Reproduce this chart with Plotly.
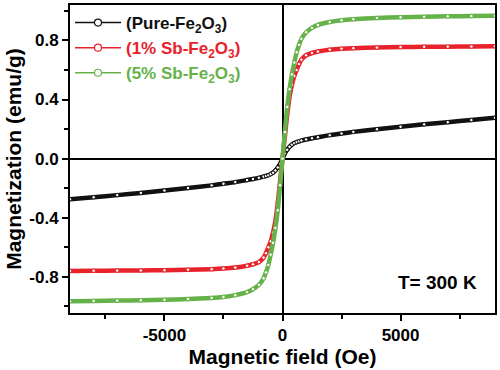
import plotly.graph_objects as go

field_oe = [-9000, -8000, -7000, -6000, -5000, -4000, -3000, -2500, -2000, -1500, -1250, -1000,
            -800, -700, -600, -500, -400, -300, -200, -100, 0,
            100, 200, 300, 400, 500, 600, 700, 800,
            1000, 1250, 1500, 2000, 2500, 3000, 4000, 5000, 6000, 7000, 8000, 9000]

pure_fe2o3 = [-0.275, -0.261, -0.247, -0.232, -0.216, -0.199, -0.181, -0.170, -0.159, -0.145, -0.138, -0.130,
              -0.122, -0.117, -0.112, -0.105, -0.095, -0.080, -0.060, -0.035, 0.0,
              0.035, 0.060, 0.080, 0.095, 0.105, 0.112, 0.117, 0.122,
              0.130, 0.138, 0.145, 0.159, 0.170, 0.181, 0.199, 0.216, 0.232, 0.247, 0.261, 0.276]

sb1_fe2o3 = [-0.760, -0.759, -0.758, -0.757, -0.755, -0.752, -0.748, -0.744, -0.737, -0.725, -0.715, -0.700,
             -0.670, -0.640, -0.600, -0.560, -0.500, -0.420, -0.300, -0.150, 0.0,
             0.150, 0.300, 0.420, 0.500, 0.560, 0.600, 0.640, 0.670,
             0.700, 0.715, 0.725, 0.737, 0.744, 0.748, 0.752, 0.755, 0.757, 0.758, 0.759, 0.760]

sb5_fe2o3 = [-0.965, -0.963, -0.961, -0.959, -0.956, -0.951, -0.943, -0.936, -0.924, -0.904, -0.884, -0.854,
             -0.810, -0.770, -0.720, -0.650, -0.570, -0.470, -0.350, -0.180, 0.0,
             0.180, 0.350, 0.470, 0.570, 0.650, 0.720, 0.770, 0.810,
             0.855, 0.885, 0.905, 0.925, 0.937, 0.944, 0.952, 0.957, 0.960, 0.963, 0.965, 0.967]

series_names = ["(Pure-Fe<sub>2</sub>O<sub>3</sub>)",
                "(1% Sb-Fe<sub>2</sub>O<sub>3</sub>)",
                "(5% Sb-Fe<sub>2</sub>O<sub>3</sub>)"]
series_colors = ["#111111", "#e8222b", "#66b24a"]

x_tickvals = [-5000, 0, 5000]
x_ticktext = ["-5000", "0", "5000"]
y_tickvals = [-0.8, -0.4, 0.0, 0.4, 0.8]
y_ticktext = ["-0.8", "-0.4", "0.0", "0.4", "0.8"]

FONT = "Arial, Liberation Sans, Helvetica, sans-serif"

fig = go.Figure()
for name, ys, col in zip(series_names, [pure_fe2o3, sb1_fe2o3, sb5_fe2o3], series_colors):
    fig.add_trace(go.Scatter(
        x=field_oe, y=ys, mode="lines+markers", name=name, showlegend=False,
        line=dict(color=col, width=4.5, shape="spline", smoothing=0.6),
        marker=dict(symbol="circle", size=3.5, color="white", line=dict(color=col, width=1)),
    ))
# legend entries (thin line with open circle, coloured text)
for name, col in zip(series_names, series_colors):
    fig.add_trace(go.Scatter(
        x=[None], y=[None], mode="lines+markers",
        name=f"<span style='color:{col}'>{name}</span>",
        line=dict(color=col, width=1.5),
        marker=dict(symbol="circle", size=7, color="white", line=dict(color=col, width=1.2)),
    ))

fig.update_layout(
    width=500, height=370,
    margin=dict(l=70, r=3, t=4, b=57),
    paper_bgcolor="white", plot_bgcolor="white",
    font=dict(family=FONT, color="black", size=17, weight="bold"),
    showlegend=True,
    legend=dict(x=0.0, y=1.0, xanchor="left", yanchor="top",
                bgcolor="rgba(0,0,0,0)", borderwidth=0,
                font=dict(size=17, family=FONT, weight="bold"),
                itemwidth=46, tracegroupgap=0),
    annotations=[dict(text="T= 300 K", x=0.962, y=0.10, xref="paper", yref="paper",
                      xanchor="right", yanchor="middle", showarrow=False,
                      font=dict(size=19, family=FONT, color="black", weight="bold"))],
)

fig.update_xaxes(
    range=[-9000, 9000], tickvals=x_tickvals, ticktext=x_ticktext,
    ticks="outside", ticklen=6, tickwidth=2, tickcolor="black",
    minor=dict(dtick=2500, tick0=0, ticks="outside", ticklen=4, tickwidth=2, tickcolor="black"),
    showline=True, linewidth=2, linecolor="black", mirror=True,
    showgrid=False, zeroline=True, zerolinecolor="black", zerolinewidth=2,
    title=dict(text="Magnetic field (Oe)", font=dict(size=21, family=FONT, weight="bold"), standoff=4),
    tickfont=dict(size=17, family=FONT, weight="bold"),
)
fig.update_yaxes(
    range=[-1.045, 1.04], tickvals=y_tickvals, ticktext=y_ticktext,
    ticks="outside", ticklen=6, tickwidth=2, tickcolor="black",
    minor=dict(dtick=0.2, tick0=0, ticks="outside", ticklen=4, tickwidth=2, tickcolor="black"),
    showline=True, linewidth=2, linecolor="black", mirror=True,
    showgrid=False, zeroline=True, zerolinecolor="black", zerolinewidth=2,
    title=dict(text="Magnetization (emu/g)", font=dict(size=21, family=FONT, weight="bold"), standoff=2),
    tickfont=dict(size=17, family=FONT, weight="bold"),
)

fig.write_html("out.html", config={"displayModeBar": False},
               post_script="document.body.style.margin='0';document.body.style.overflow='hidden';")
